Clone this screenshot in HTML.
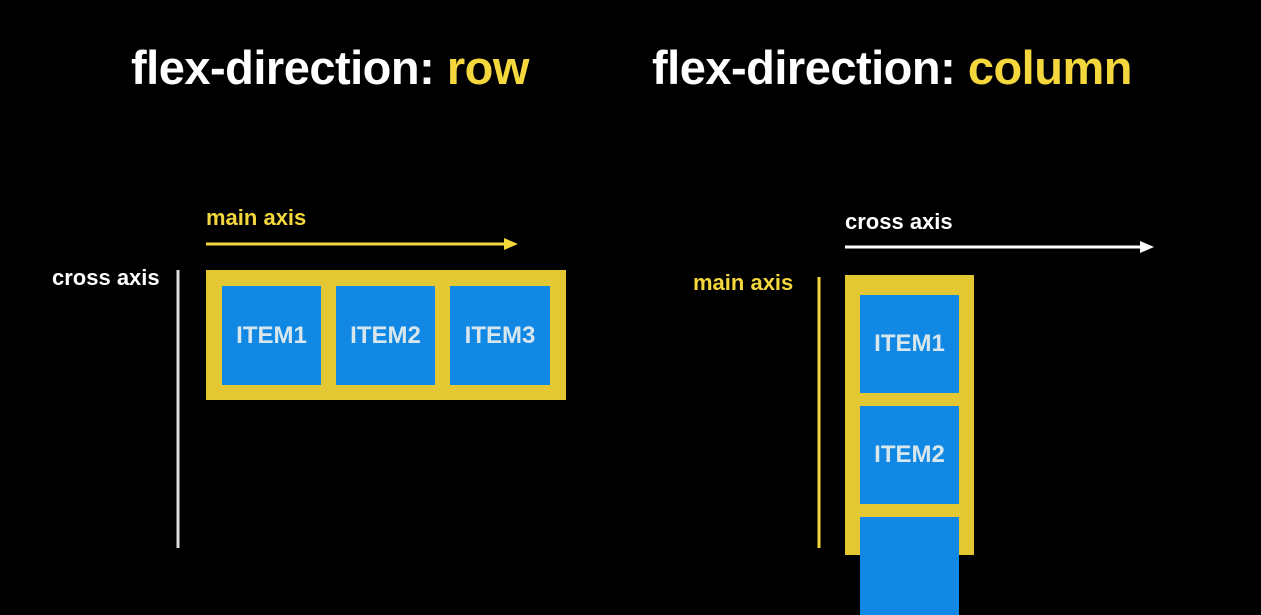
<!DOCTYPE html>
<html><head><style>
body{margin:0;width:1261px;height:548px;background:#000;position:relative;overflow:hidden;font-family:"Liberation Sans",sans-serif;font-weight:bold}
.a{position:absolute}
.t{font-size:47px;color:#fff;white-space:nowrap;letter-spacing:-0.5px}
.y{color:#f3d73c}
.l{font-size:22px;white-space:nowrap}
.box{position:absolute;background:#e3c834}
.it{position:absolute;background:#1188e4;color:#d8e6ee;font-size:24px;display:flex;align-items:center;justify-content:center;width:99px;height:99px}
</style></head><body>
<div class="a t" style="left:131px;top:40px">flex-direction: <span class="y">row</span></div>
<div class="a t" style="left:652px;top:40px">flex-direction: <span class="y">column</span></div>

<div class="a l y" style="left:206px;top:205px">main axis</div>
<svg class="a" style="left:0;top:0" width="1261" height="548">
<line x1="206" y1="244" x2="506" y2="244" stroke="#f3d73c" stroke-width="3"/>
<polygon points="504,238 518,244 504,250" fill="#f3d73c"/>
<line x1="178" y1="270" x2="178" y2="548" stroke="#ddd" stroke-width="3"/>
<line x1="845" y1="247" x2="1142" y2="247" stroke="#fff" stroke-width="3"/>
<polygon points="1140,241 1154,247 1140,253" fill="#fff"/>
<line x1="819" y1="277" x2="819" y2="548" stroke="#f3d73c" stroke-width="3"/>
</svg>
<div class="a l" style="left:52px;top:265px;color:#fff">cross axis</div>
<div class="box" style="left:206px;top:270px;width:360px;height:130px"></div>
<div class="it" style="left:222px;top:286px">ITEM1</div>
<div class="it" style="left:336px;top:286px">ITEM2</div>
<div class="it" style="left:450px;top:286px;width:100px">ITEM3</div>

<div class="a l" style="left:845px;top:209px;color:#fff">cross axis</div>
<div class="a l y" style="left:693px;top:270px">main axis</div>
<div class="box" style="left:845px;top:275px;width:129px;height:280px"></div>
<div class="it" style="left:860px;top:295px;height:98px">ITEM1</div>
<div class="it" style="left:860px;top:406px;height:98px">ITEM2</div>
<div class="it" style="left:860px;top:517px;height:98px"></div>
</body></html>
